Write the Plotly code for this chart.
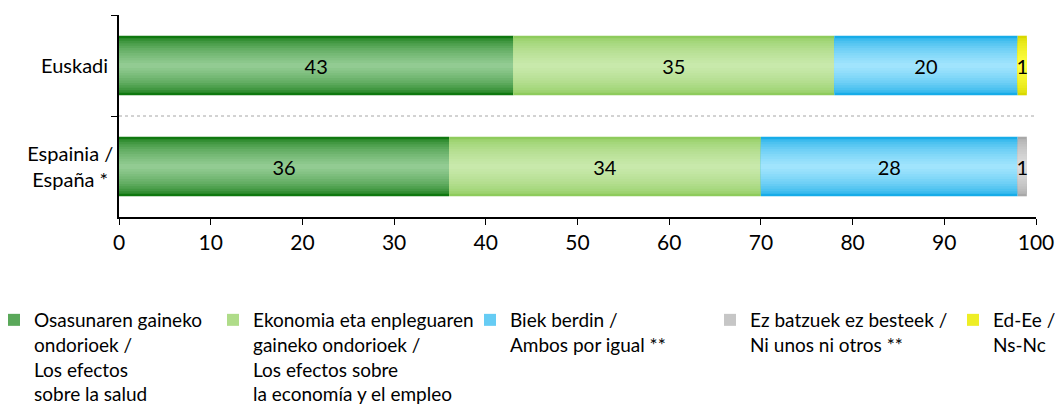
import plotly.graph_objects as go

# Datuak / data
categories = ["Euskadi", "Espainia /<br>España *"]
series_names = [
    "Osasunaren gaineko<br>ondorioek /<br>Los efectos<br>sobre la salud",
    "Ekonomia eta enpleguaren<br>gaineko ondorioek /<br>Los efectos sobre<br>la economía y el empleo",
    "Biek berdin /<br>Ambos por igual **",
    "Ez batzuek ez besteek /<br>Ni unos ni otros **",
    "Ed-Ee /<br>Ns-Nc",
]
osasuna = [43, 36]
ekonomia = [35, 34]
biak = [20, 28]
ez_batzuek = [0, 1]
ed_ee = [1, 0]
x_ticks = [0, 10, 20, 30, 40, 50, 60, 70, 80, 90, 100]

values = [osasuna, ekonomia, biak, ez_batzuek, ed_ee]

# edge colour -> centre colour (gradient look like the excel bars)
COLORS = [
    ("#0f780f", "#92cb92"),
    ("#8ecb5c", "#c8e9ab"),
    ("#17ace8", "#a0e4fd"),
    ("#a8a8a8", "#dcdcdc"),
    ("#d8d800", "#ffff40"),
]
FONT = "Lato, Carlito, Calibri, sans-serif"
BAR_W = 0.59
LAYERS = 12

# page body has an 8px margin -> work in figure pixels, keep the figure
# small enough that no scrollbar appears
OFF = 8
W, H = 1063 - 2 * OFF, 412 - 2 * OFF
PLOT_L, PLOT_R, PLOT_T, PLOT_B = 119 - OFF, 1036 - OFF, 15 - OFF, 217 - OFF
# legend symbol centre (page px) for each entry
LEG_SYM_X = [14, 233, 490, 730, 973]
LEG_TOP = 301 - OFF


def mix(c1, c2, t):
    a = [int(c1[i:i + 2], 16) for i in (1, 3, 5)]
    b = [int(c2[i:i + 2], 16) for i in (1, 3, 5)]
    return "#" + "".join(f"{round(x + (y - x) * t):02x}" for x, y in zip(a, b))


fig = go.Figure()
bases = [0, 0]
for s, (name, vals) in enumerate(zip(series_names, values)):
    edge, centre = COLORS[s]
    legend_key = "legend" if s == 0 else f"legend{s + 1}"
    for k in range(LAYERS):
        t = (k / (LAYERS - 1)) ** 0.55
        fig.add_trace(go.Bar(
            y=categories, x=vals, base=list(bases),
            orientation="h",
            width=BAR_W * (1 - k / LAYERS),
            marker=dict(color=mix(edge, centre, t), line=dict(width=0)),
            name=name, legendgroup=name, legend=legend_key,
            showlegend=(k == LAYERS // 3),
            hoverinfo="skip",
        ))
    # labels on top
    fig.add_trace(go.Bar(
        y=categories, x=vals, base=list(bases),
        orientation="h", width=BAR_W,
        marker=dict(color="rgba(0,0,0,0)", line=dict(width=0)),
        text=[str(v) if v else "" for v in vals],
        textposition="inside", insidetextanchor="middle",
        constraintext="none", cliponaxis=False,
        textfont=dict(family=FONT, size=20, color="#000000"),
        showlegend=False, legend=legend_key,
        hovertemplate="%{y}: %{x}<extra></extra>",
    ))
    bases = [b + v for b, v in zip(bases, vals)]

fig.add_shape(
    type="line", xref="x domain", yref="y", x0=0, x1=1.0, y0=0.5, y1=0.5,
    line=dict(color="#a6a6a6", width=1, dash="3px,3px"),
)

plot_w = PLOT_R - PLOT_L
plot_h = PLOT_B - PLOT_T
legends = {}
for i, sx in enumerate(LEG_SYM_X):
    key = "legend" if i == 0 else f"legend{i + 1}"
    legends[key] = dict(
        x=(sx - OFF - 20 - PLOT_L) / plot_w, xanchor="left",
        y=(PLOT_B - LEG_TOP) / plot_h, yanchor="top",
        valign="top", itemwidth=30, bgcolor="rgba(0,0,0,0)",
        font=dict(family=FONT, size=19, color="#000000"),
        itemclick=False, itemdoubleclick=False,
    )

fig.update_layout(
    width=W, height=H,
    barmode="overlay",
    template="plotly_white",
    margin=dict(l=PLOT_L, r=W - PLOT_R, t=PLOT_T, b=H - PLOT_B, autoexpand=False),
    paper_bgcolor="white", plot_bgcolor="white",
    font=dict(family=FONT, size=20, color="#000000"),
    **legends,
)
fig.update_xaxes(
    range=[0, 100], tickvals=x_ticks, showgrid=False, zeroline=False,
    showline=True, linecolor="#000000", linewidth=1.5,
    ticks="outside", ticklen=6, tickcolor="#000000",
    tickfont=dict(family=FONT, size=21, color="#000000"),
)
fig.update_yaxes(
    autorange="reversed", showgrid=False, zeroline=False,
    showline=True, linecolor="#000000", linewidth=1.5,
    ticks="outside", ticklen=6, tickcolor="#000000", tickson="boundaries",
    tickfont=dict(family=FONT, size=20, color="#000000"),
    ticksuffix=" ",
)

fig.write_html("out.html")
